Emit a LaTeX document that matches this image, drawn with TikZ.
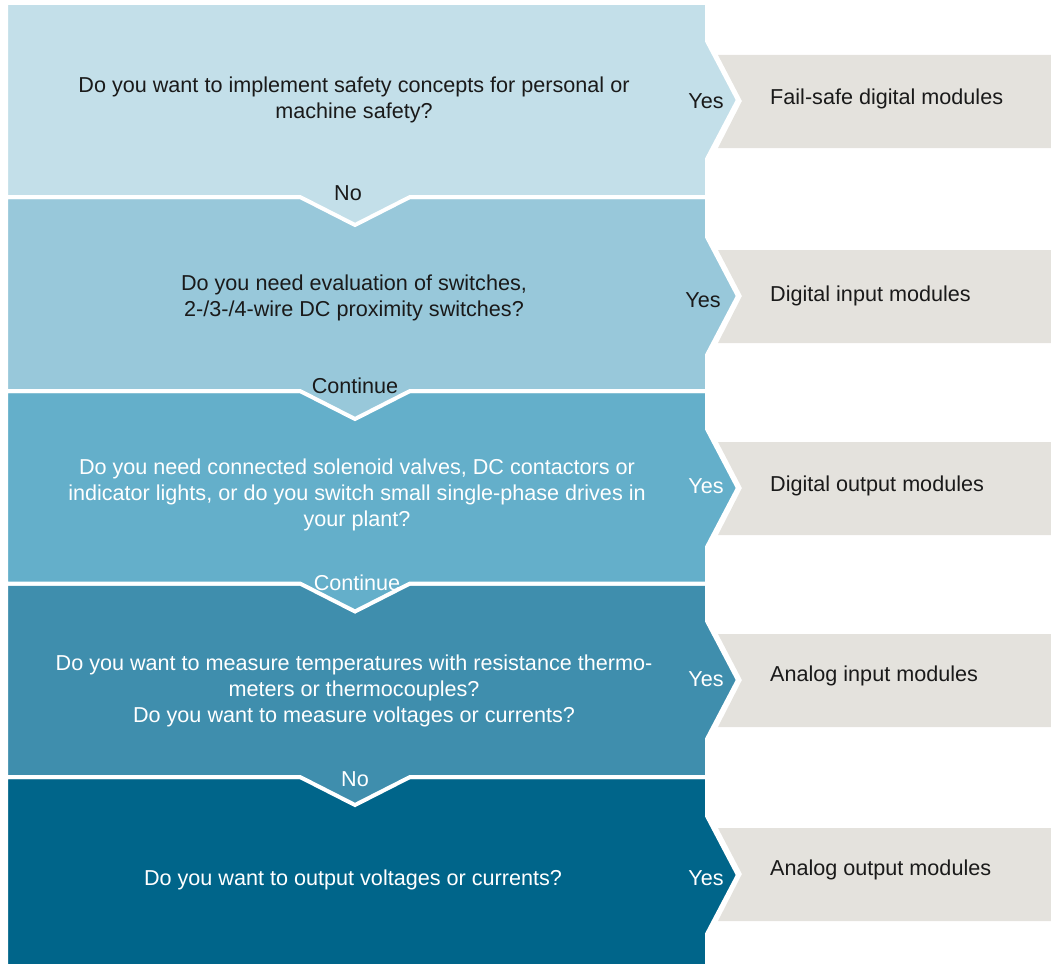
\documentclass[tikz,border=0pt]{standalone}
\usepackage{fontspec}
\setmainfont{Liberation Sans}
\definecolor{stageA}{HTML}{C3DFE9}
\definecolor{stageB}{HTML}{98C8DA}
\definecolor{stageC}{HTML}{64AFCA}
\definecolor{stageD}{HTML}{3F8EAD}
\definecolor{stageE}{HTML}{00658A}
\definecolor{modgrey}{HTML}{E4E2DD}
\definecolor{ink}{HTML}{1A1A1A}
\tikzstyle{stage}=[draw=white, line width=4pt, line join=miter]
\tikzstyle{question}=[align=center, inner sep=0pt, font=\fontsize{21.6}{26}\selectfont]
\tikzstyle{yes}=[inner sep=0pt, font=\fontsize{21.6}{24}\selectfont]
\tikzstyle{branch}=[inner sep=0pt, font=\fontsize{21.6}{24}\selectfont]
\tikzstyle{module}=[anchor=west, inner sep=0pt, text=ink, font=\fontsize{21.6}{24}\selectfont]
% one stage: top, bottom, middle of the chevron, colour
\newcommand{\stage}[4]{\fill[stage, fill=#4] (6,#1) -- (707,#1) -- (707,#3-59) -- (738,#3) -- (707,#3+59) -- (707,#2) -- (410,#2) -- (355,#2+28) -- (300,#2) -- (6,#2) -- cycle;}
% grey result box, notched round the chevron
\newcommand{\modbox}[1]{\fill[modgrey] (718,#1-46) -- (1060,#1-46) -- (1060,#1+47) -- (718,#1+47) -- (742,#1) -- cycle;}

\begin{document}
\begin{tikzpicture}[x=1pt, y=-1pt]
  \useasboundingbox (0,0) rectangle (1051,963);
  \modbox{101}
  \modbox{296}
  \modbox{488}
  \modbox{680}
  \modbox{874}
  \stage{777}{985}{875}{stageE}
  \stage{583.5}{777}{680}{stageD}
  \stage{391}{583.5}{488}{stageC}
  \stage{197}{391}{296}{stageB}
  \stage{3}{197}{100}{stageA}

  \node[question, text=ink] (q1) at (354,100) {Do you want to implement safety concepts for personal or\\machine safety?};
  \node[question, text=ink] (q2) at (354,298) {Do you need evaluation of switches,\\2-/3-/4-wire DC proximity switches?};
  \node[question, text=white] (q3) at (357,495) {Do you need connected solenoid valves, DC contactors or\\indicator lights, or do you switch small single-phase drives in\\your plant?};
  \node[question, text=white] (q4) at (354,691) {Do you want to measure temperatures with resistance thermo-\\meters or thermocouples?\\Do you want to measure voltages or currents?};
  \node[question, text=white] (q5) at (353,880) {Do you want to output voltages or currents?};

  \node[yes, text=ink] (y1) at (706,101) {Yes};
  \node[yes, text=ink] (y2) at (703,300) {Yes};
  \node[yes, text=white] (y3) at (706,486) {Yes};
  \node[yes, text=white] (y4) at (706,679) {Yes};
  \node[yes, text=white] (y5) at (706,878) {Yes};

  \node[module] (m1) at (770,99) {Fail-safe digital modules};
  \node[module] (m2) at (770,296) {Digital input modules};
  \node[module] (m3) at (770,486) {Digital output modules};
  \node[module] (m4) at (770,676) {Analog input modules};
  \node[module] (m5) at (770,870) {Analog output modules};

  \node[branch, text=ink] (n1) at (348,193) {No};
  \node[branch, text=ink] (n2) at (355,386) {Continue};
  \node[branch, text=white] (n3) at (357,583) {Continue};
  \node[branch, text=white] (n4) at (355,779) {No};
\end{tikzpicture}
\end{document}
